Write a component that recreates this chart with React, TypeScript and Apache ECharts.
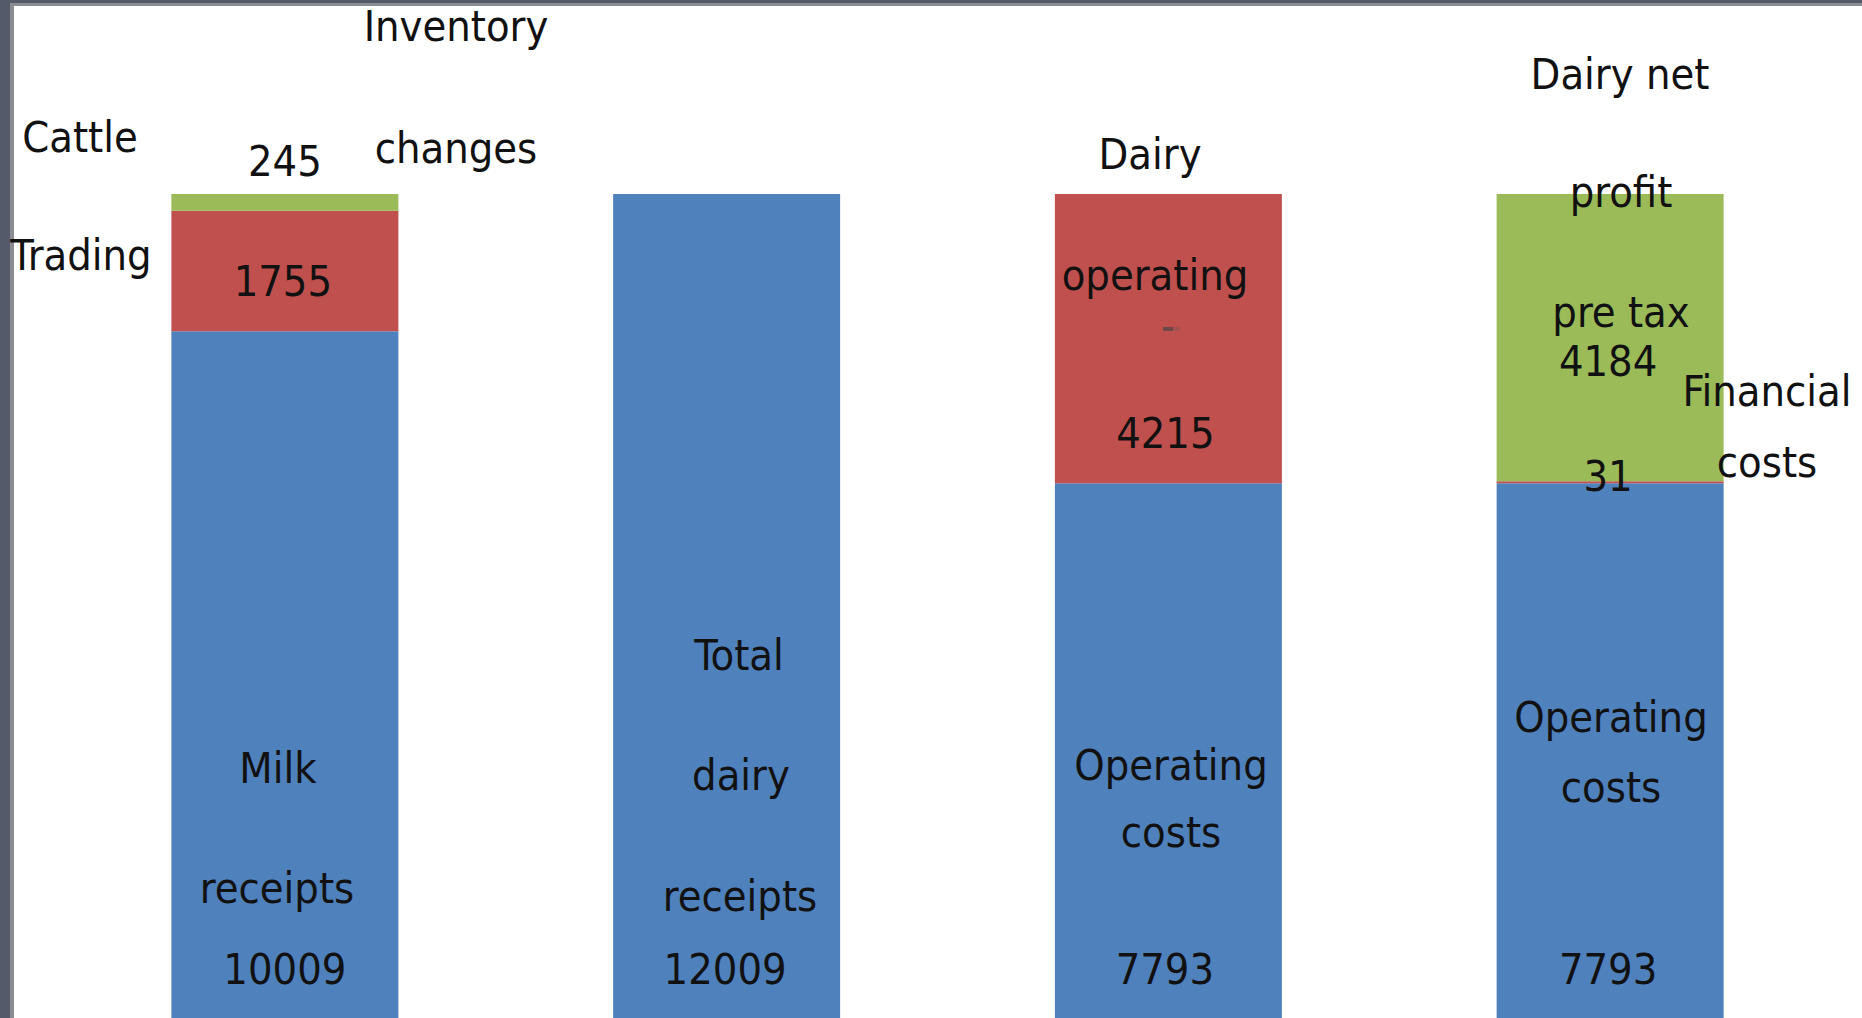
import React, { useEffect, useRef } from "react";
import * as echarts from "echarts";

const categories = ["Milk receipts", "Total dairy receipts", "Dairy operating", "Dairy net profit"];
const baseValues = [10009, 12009, 7793, 7793];
const middleValues = [1755, 0, 4215, 31];
const topValues = [245, 0, 0, 4184];

const wordLabels: [string, number, number][] = [
  ["Cattle", 80, 137],
  ["Trading", 81, 255],
  ["Inventory", 456, 26],
  ["changes", 456, 148],
  ["Milk", 278, 768],
  ["receipts", 277, 888],
  ["Total", 739, 655],
  ["dairy", 741, 775],
  ["receipts", 740, 896],
  ["Dairy", 1150, 154],
  ["operating", 1155, 275],
  ["Operating", 1171, 765],
  ["costs", 1171, 832],
  ["Dairy net", 1620, 74],
  ["profit", 1621, 192],
  ["pre tax", 1621, 312],
  ["Financial", 1767, 391],
  ["costs", 1767, 462],
  ["Operating", 1611, 717],
  ["costs", 1611, 787],
];

const FONT = "'Liberation Sans Narrow', 'DejaVu Sans Condensed', 'Noto Sans', sans-serif";
const FS = 43;

export default function App() {
  const ref = useRef<HTMLDivElement>(null);
  useEffect(() => {
    document.body.style.margin = "0";
    const chart = echarts.init(ref.current!, null, { renderer: "svg" });
    const lbl = (extra: any) => ({
      show: true,
      formatter: "{c}",
      fontFamily: FONT,
      fontSize: FS,
      lineHeight: FS,
      color: "#111",
      ...extra,
    });
    const baseOffsets = [0, -1.5, -3.5, -2];
    const baseData = baseValues.map((v, i) => ({
      value: v,
      label: lbl({ position: "insideBottom", distance: 28, offset: [baseOffsets[i], 0] }),
    }));
    const midLabelCfg: any[] = [
      lbl({ position: "inside", offset: [-2, 10] }),
      { show: false },
      lbl({ position: "inside", offset: [-3, 94] }),
      lbl({ position: "inside", offset: [-2, -6] }),
    ];
    const midData = middleValues.map((v, i) => ({ value: v, label: midLabelCfg[i] }));
    const topLabelCfg: any[] = [
      lbl({ position: "top", distance: 12 }),
      { show: false },
      { show: false },
      lbl({ position: "inside", offset: [-2, 23] }),
    ];
    const topData = topValues.map((v, i) => ({ value: v, label: topLabelCfg[i] }));

    chart.setOption({
      animation: false,
      backgroundColor: "#555a6b",
      grid: { left: 64, right: 31, top: 194, bottom: 0 },
      xAxis: { type: "category", data: categories, show: false },
      yAxis: { type: "value", min: 0, max: 12009, show: false },
      series: [
        { type: "bar", stack: "s", data: baseData, barWidth: 227, itemStyle: { color: "#4f81bd" } },
        { type: "bar", stack: "s", data: midData, barWidth: 227, itemStyle: { color: "#c0504d" } },
        { type: "bar", stack: "s", data: topData, barWidth: 227, itemStyle: { color: "#9bbb59" } },
      ],
      graphic: [
        { type: "rect", z: -10, silent: true, shape: { x: 10, y: 3, width: 1862, height: 1018 }, style: { fill: "#8a8c92" } },
        { type: "rect", z: -9, silent: true, shape: { x: 14, y: 6, width: 1862, height: 1018 }, style: { fill: "#ffffff" } },
        { type: "rect", z: 50, silent: true, shape: { x: 1163, y: 327, width: 10, height: 4 }, style: { fill: "#6e4848" } },
        { type: "rect", z: 50, silent: true, shape: { x: 1173, y: 327, width: 7, height: 4 }, style: { fill: "#a65050" } },
        ...wordLabels.map(([t, x, y]) => ({
          type: "text",
          z: 100,
          silent: true,
          x,
          y,
          style: {
            text: t,
            fontFamily: FONT,
            fontSize: FS,
            fill: "#111",
            textAlign: "center",
            textVerticalAlign: "middle",
          },
        })),
      ],
    });
    return () => chart.dispose();
  }, []);
  return <div ref={ref} style={{ position: "fixed", left: 0, top: 0, width: 1862, height: 1018 }} />;
}
